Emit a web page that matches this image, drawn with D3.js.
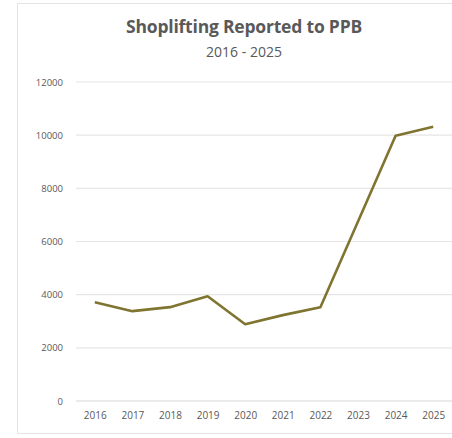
<!DOCTYPE html>
<html>
<head>
<meta charset="utf-8">
<script src="https://cdn.jsdelivr.net/npm/d3@7"></script>
<style>
  body { margin: 0; background: #fff; }
  text { font-family: "Open Sans", "Liberation Sans", sans-serif; }
</style>
</head>
<body>
<svg id="chart"></svg>
<script>
// data
var years = ["2016", "2017", "2018", "2019", "2020", "2021", "2022", "2023", "2024", "2025"]
var incidents = [3715, 3380, 3530, 3940, 2890, 3230, 3530, 6750, 9980, 10320]
var yTicks = [0, 2000, 4000, 6000, 8000, 10000, 12000]

var width = 452,
  height = 438

var svg = d3.select("#chart")
  .attr("width", width)
  .attr("height", height)

// chart frame
svg.append("rect")
  .attr("x", 17.5)
  .attr("y", 3.5)
  .attr("width", 440)
  .attr("height", 430)
  .style("fill", "#fff")
  .style("stroke", "#e4e4e4")

var x = d3.scalePoint()
  .domain(years)
  .range([76, 452])
  .padding(0.5)

var y = d3.scaleLinear()
  .domain([0, 12000])
  .range([401, 82])

// gridlines
svg.append("g")
  .selectAll("line")
  .data(yTicks.filter(function (d) { return d > 0 }))
  .enter()
  .append("line")
  .attr("x1", 76)
  .attr("x2", 452)
  .attr("y1", function (d) { return y(d) })
  .attr("y2", function (d) { return y(d) })
  .style("stroke", "#e6e6e6")
  .style("stroke-width", 1.2)

// x axis
var xAxis = svg.append("g")
  .attr("transform", "translate(0," + y(0) + ")")
  .call(d3.axisBottom(x).tickSize(0).tickPadding(11))
xAxis.select(".domain").style("stroke", "#d6d6d6").attr("d", "M76,0H452")
xAxis.selectAll("text")
  .style("font-size", "10px")
  .style("fill", "#595959")

// y axis
var yAxis = svg.append("g")
  .attr("transform", "translate(65,0)")
  .call(d3.axisLeft(y).tickValues(yTicks).tickSize(0).tickPadding(2).tickFormat(d3.format("d")))
yAxis.select(".domain").remove()
yAxis.selectAll("text")
  .style("font-size", "9.5px")
  .style("fill", "#595959")

// line
var line = d3.line()
  .x(function (d, i) { return x(years[i]) })
  .y(function (d) { return y(d) })

svg.append("path")
  .datum(incidents)
  .attr("d", line)
  .style("fill", "none")
  .style("stroke", "#7f7430")
  .style("stroke-width", 2.6)
  .style("stroke-linejoin", "round")

// titles
svg.append("text")
  .attr("x", 244)
  .attr("y", 33)
  .attr("text-anchor", "middle")
  .style("font-size", "17.5px")
  .style("font-weight", "bold")
  .style("letter-spacing", "-0.2px")
  .style("fill", "#595959")
  .text("Shoplifting Reported to PPB")

svg.append("text")
  .attr("x", 244)
  .attr("y", 57)
  .attr("text-anchor", "middle")
  .style("font-size", "14px")
  .style("fill", "#595959")
  .text("2016 - 2025")
</script>
</body>
</html>
